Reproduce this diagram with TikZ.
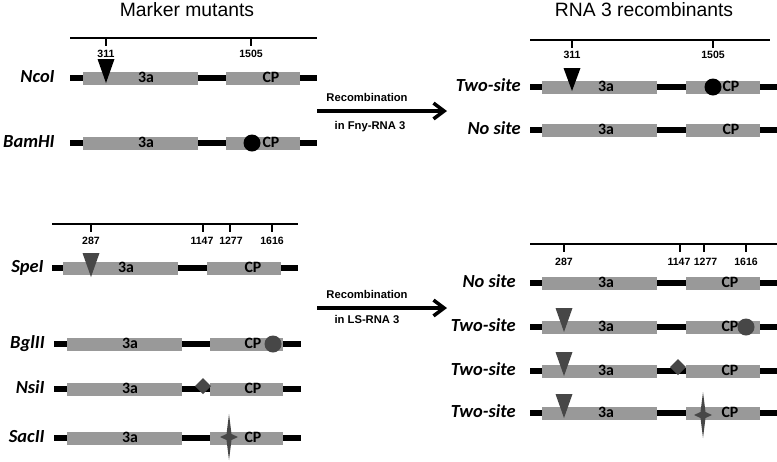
\documentclass[tikz,border=0pt]{standalone}
\usepackage{fontspec}
\setmainfont{Liberation Sans}
\newfontfamily\calibfont{Carlito}
\usepackage{tikz}
\usetikzlibrary{arrows.meta}

\tikzset{
    backbone/.style={line width=2.9pt},
    gene/.style={fill=black!40},
    ruler/.style={line width=1.1pt},
    sitemark/.style={fill=black!72},
    genename/.style={font=\calibfont\bfseries\fontsize{9}{9}\selectfont, anchor=base, inner sep=0pt},
    rowname/.style={font=\calibfont\bfseries\itshape\fontsize{10.5}{10.5}\selectfont, anchor=base east, inner sep=0pt},
    ticknum/.style={font=\bfseries\fontsize{6}{6}\selectfont, anchor=base, inner sep=0pt},
    paneltitle/.style={font=\fontsize{11}{11}\selectfont, anchor=base, inner sep=0pt},
    steptext/.style={font=\bfseries\fontsize{6.4}{6.4}\selectfont, anchor=base, inner sep=0pt},
    recomb/.style={line width=2pt, -{Straight Barb[length=6pt,width=9pt]}}
}

\begin{document}
\begin{tikzpicture}[x=0.02cm, y=-0.02cm]
    \useasboundingbox (0,0) rectangle (777,461);

    % titles
    \node[paneltitle] (lefttitle) at (187,16) {Marker mutants};
    \node[paneltitle] (righttitle) at (644,16) {RNA 3 recombinants};

    % Fny markers
    \draw[ruler] (70,38) -- (317,38);
    \foreach \x/\n in {106/311, 251/1505} {
        \draw[ruler] (\x,38) -- (\x,46);
        \node[ticknum] (fnyl\n) at (\x,57) {\n};
    }
    \foreach \y/\lab/\nm in {78/NcoI/ncoi, 143/BamHI/bamhi} {
        \draw[backbone] (70,\y) -- (317,\y);
        \fill[gene] (83,\y-6.5) rectangle (198,\y+6.5);
        \fill[gene] (226,\y-6.5) rectangle (300,\y+6.5);
        \node[genename] (\nm-3a) at (146,\y+4.5) {3a};
        \node[genename] (\nm-cp) at (271,\y+4.5) {CP};
        \node[rowname] (\nm) at (55,\y+4) {\lab};
    }
    \fill (97.5,59) -- (114.5,59) -- (106,83) -- cycle;
    \fill (252,143) circle[radius=0.17cm];

    % Fny recombinants
    \draw[ruler] (530,40) -- (770,40);
    \foreach \x/\n in {572/311, 713/1505} {
        \draw[ruler] (\x,40) -- (\x,48);
        \node[ticknum] (fnyr\n) at (\x,58) {\n};
    }
    \foreach \y/\lab/\nm in {87/Two-site/fnytwo, 130/No site/fnynone} {
        \draw[backbone] (530,\y) -- (777,\y);
        \fill[gene] (542,\y-6.5) rectangle (657,\y+6.5);
        \fill[gene] (686,\y-6.5) rectangle (760,\y+6.5);
        \node[genename] (\nm-3a) at (606,\y+4.5) {3a};
        \node[genename] (\nm-cp) at (731,\y+4.5) {CP};
        \node[rowname] (\nm) at (521,\y+4.5) {\lab};
    }
    \fill (563.5,68) -- (580.5,68) -- (572,91) -- cycle;
    \fill (713,87) circle[radius=0.17cm];

    \node[steptext] (fnystep) at (367,101) {Recombination};
    \node[steptext] (fnyrna) at (370,129) {in Fny-RNA 3};
    \coordinate (fnyfrom) at (317,111);
    \coordinate (fnyto) at (447,111);
    \draw[recomb] (fnyfrom) -- (fnyto);

    % LS markers
    \draw[ruler] (52,224) -- (298,224);
    \foreach \x/\lx/\n in {91/91/287, 203/202/1147, 230/231/1277, 272/272/1616} {
        \draw[ruler] (\x,224) -- (\x,232);
        \node[ticknum] (lsl\n) at (\lx,244) {\n};
    }
    \draw[backbone] (52,268) -- (298,268);
    \fill[gene] (63,261.5) rectangle (178,274.5);
    \fill[gene] (207,261.5) rectangle (281,274.5);
    \node[genename] (spei-3a) at (126,272.5) {3a};
    \node[genename] (spei-cp) at (253,272.5) {CP};
    \node[rowname] (spei) at (44,272) {SpeI};
    \foreach \y/\lab/\nm in {344/BglII/bglii, 389/NsiI/nsii, 438/SacII/sacii} {
        \draw[backbone] (54,\y) -- (301,\y);
        \fill[gene] (67,\y-6.5) rectangle (182,\y+6.5);
        \fill[gene] (210,\y-6.5) rectangle (283,\y+6.5);
        \node[genename] (\nm-3a) at (130,\y+4.5) {3a};
        \node[genename] (\nm-cp) at (253,\y+4.5) {CP};
        \node[rowname] (\nm) at (45,\y+4) {\lab};
    }
    \fill[sitemark] (82.5,253) -- (99.5,253) -- (91,277) -- cycle;
    \fill[sitemark] (273,344) circle[radius=0.17cm];
    \fill[sitemark] (203,386) ++(0,-8) -- ++(8,8) -- ++(-8,8) -- ++(-8,-8) -- cycle;
    \fill[sitemark] (229,437) ++(0,-23) -- ++(2.5,20) -- ++(6.5,3) -- ++(-6.5,3) -- ++(-2.5,20) -- ++(-2.5,-20) -- ++(-6.5,-3) -- ++(6.5,-3) -- cycle;

    % LS recombinants
    \draw[ruler] (530,244) -- (777,244);
    \foreach \x/\lx/\n in {564/564/287, 680/679/1147, 704/705.5/1277, 746/746/1616} {
        \draw[ruler] (\x,244) -- (\x,252);
        \node[ticknum] (lsr\n) at (\lx,265) {\n};
    }
    \foreach \y/\lab/\nm in {283/No site/lsnone, 327/Two-site/lstwoa, 371/Two-site/lstwob, 413/Two-site/lstwoc} {
        \draw[backbone] (530,\y) -- (777,\y);
        \fill[gene] (542,\y-6.5) rectangle (657,\y+6.5);
        \fill[gene] (686,\y-6.5) rectangle (760,\y+6.5);
        \node[genename] (\nm-3a) at (606,\y+4.5) {3a};
        \node[genename] (\nm-cp) at (730,\y+4.5) {CP};
        \node[rowname] (\nm) at (516,\y+4.5) {\lab};
    }
    \foreach \y in {327, 371, 413} {
        \fill[sitemark] (555.5,\y-19) -- (572.5,\y-19) -- (564,\y+5) -- cycle;
    }
    \fill[sitemark] (746,327) circle[radius=0.17cm];
    \fill[sitemark] (678,367) ++(0,-8) -- ++(8,8) -- ++(-8,8) -- ++(-8,-8) -- cycle;
    \fill[sitemark] (703,415) ++(0,-23) -- ++(2.5,20) -- ++(6.5,3) -- ++(-6.5,3) -- ++(-2.5,20) -- ++(-2.5,-20) -- ++(-6.5,-3) -- ++(6.5,-3) -- cycle;

    \node[steptext] (lsstep) at (367,298) {Recombination};
    \node[steptext] (lsrna) at (367,323) {in LS-RNA 3};
    \coordinate (lsfrom) at (317,308);
    \coordinate (lsto) at (447,308);
    \draw[recomb] (lsfrom) -- (lsto);
\end{tikzpicture}
\end{document}
